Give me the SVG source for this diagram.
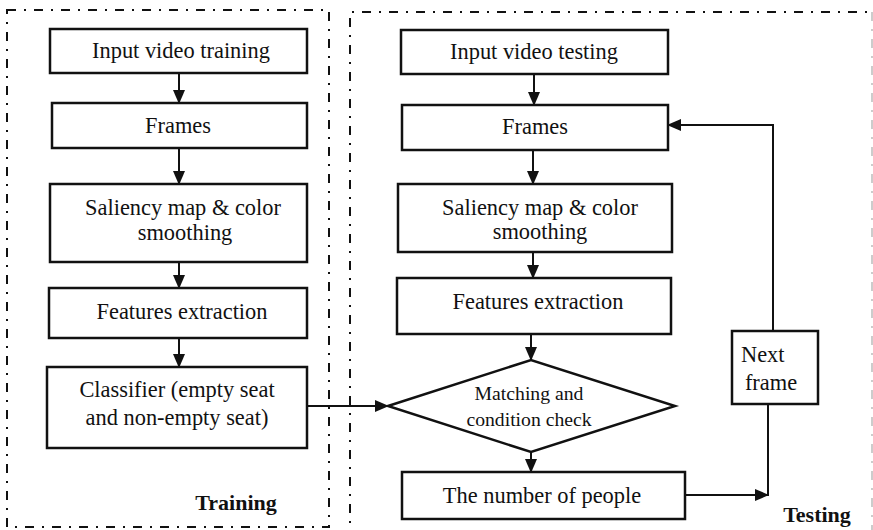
<svg xmlns="http://www.w3.org/2000/svg" width="873" height="530" viewBox="0 0 873 530">
<defs>
<marker id="ah" markerWidth="14" markerHeight="12" refX="13" refY="6" orient="auto" markerUnits="userSpaceOnUse">
<path d="M0,0 L14,6 L0,12 z" fill="#111"/>
</marker>
<style>
.frame{fill:none;stroke:#111;stroke-width:2;stroke-dasharray:9 8 2 8}
.box{fill:#fff;stroke:#111;stroke-width:2.5}
.t{font-family:"Liberation Serif","Times New Roman",Times,serif;font-size:22.4px;fill:#111;text-anchor:middle}
.d{font-size:19.7px}
.b{font-family:"Liberation Serif","Times New Roman",Times,serif;font-size:22px;font-weight:bold;fill:#111;text-anchor:middle}
.c{fill:none;stroke:#111;stroke-width:2}
</style>
</defs>
<rect width="873" height="530" fill="#fff"/>
<g id="training-frame">
<rect class="frame" x="7" y="10" width="322" height="517"/>
<text class="b" x="236" y="510">Training</text>
</g>
<g id="testing-frame">
<path class="frame" d="M350,540 L350,12 L872,12"/>
<path d="M872,12 L872,540" fill="none" stroke="#ccc" stroke-width="2" stroke-dasharray="9 8 2 8"/>
<text class="b" x="817" y="522">Testing</text>
</g>
<g id="connectors">
<line class="c" x1="179" y1="73" x2="179" y2="103" marker-end="url(#ah)"/>
<line class="c" x1="179" y1="148" x2="179" y2="184" marker-end="url(#ah)"/>
<line class="c" x1="179" y1="262" x2="179" y2="288" marker-end="url(#ah)"/>
<line class="c" x1="179" y1="338" x2="179" y2="367" marker-end="url(#ah)"/>
<line class="c" x1="307" y1="406" x2="388" y2="406" marker-end="url(#ah)"/>
<line class="c" x1="534" y1="74" x2="534" y2="105" marker-end="url(#ah)"/>
<line class="c" x1="533" y1="150" x2="533" y2="184" marker-end="url(#ah)"/>
<line class="c" x1="533" y1="252" x2="533" y2="278" marker-end="url(#ah)"/>
<line class="c" x1="531" y1="334" x2="531" y2="360" marker-end="url(#ah)"/>
<line class="c" x1="531" y1="452" x2="531" y2="472" marker-end="url(#ah)"/>
<polyline class="c" points="773,331 773,125 668,125" marker-end="url(#ah)"/>
<line class="c" x1="768" y1="404" x2="768" y2="496"/>
<line class="c" x1="685" y1="495" x2="768" y2="495" marker-end="url(#ah)"/>
</g>
<g id="input-training">
<rect class="box" x="50" y="29" width="257" height="44"/>
<text class="t" x="181" y="58">Input video training</text>
</g>
<g id="frames-training">
<rect class="box" x="52" y="103" width="255" height="45"/>
<text class="t" x="178" y="133">Frames</text>
</g>
<g id="saliency-training">
<rect class="box" x="50" y="184" width="257" height="78"/>
<text class="t" x="183" y="215">Saliency map &amp; color</text>
<text class="t" x="185" y="240">smoothing</text>
</g>
<g id="features-training">
<rect class="box" x="49" y="288" width="258" height="50"/>
<text class="t" x="182" y="319">Features extraction</text>
</g>
<g id="classifier">
<rect class="box" x="47" y="367" width="260" height="81"/>
<text class="t" x="177" y="397">Classifier (empty seat</text>
<text class="t" x="177" y="425">and non-empty seat)</text>
</g>
<g id="input-testing">
<rect class="box" x="401" y="30" width="267" height="44"/>
<text class="t" x="534" y="59">Input video testing</text>
</g>
<g id="frames-testing">
<rect class="box" x="402" y="105" width="266" height="45"/>
<text class="t" x="535" y="134">Frames</text>
</g>
<g id="saliency-testing">
<rect class="box" x="398" y="184" width="274" height="68"/>
<text class="t" x="540" y="215">Saliency map &amp; color</text>
<text class="t" x="540" y="239">smoothing</text>
</g>
<g id="features-testing">
<rect class="box" x="397" y="278" width="274" height="56"/>
<text class="t" x="538" y="309">Features extraction</text>
</g>
<g id="matching">
<polygon class="box" points="388,406 531,360 675,406 531,452"/>
<text class="t d" x="529" y="400">Matching and</text>
<text class="t d" x="529" y="426">condition check</text>
</g>
<g id="number-people">
<rect class="box" x="402" y="472" width="283" height="47"/>
<text class="t" x="542" y="503">The number of people</text>
</g>
<g id="next-frame">
<rect class="box" x="732" y="331" width="86" height="73"/>
<text class="t" x="741" y="362" style="text-anchor:start">Next</text>
<text class="t" x="771" y="390">frame</text>
</g>
</svg>
